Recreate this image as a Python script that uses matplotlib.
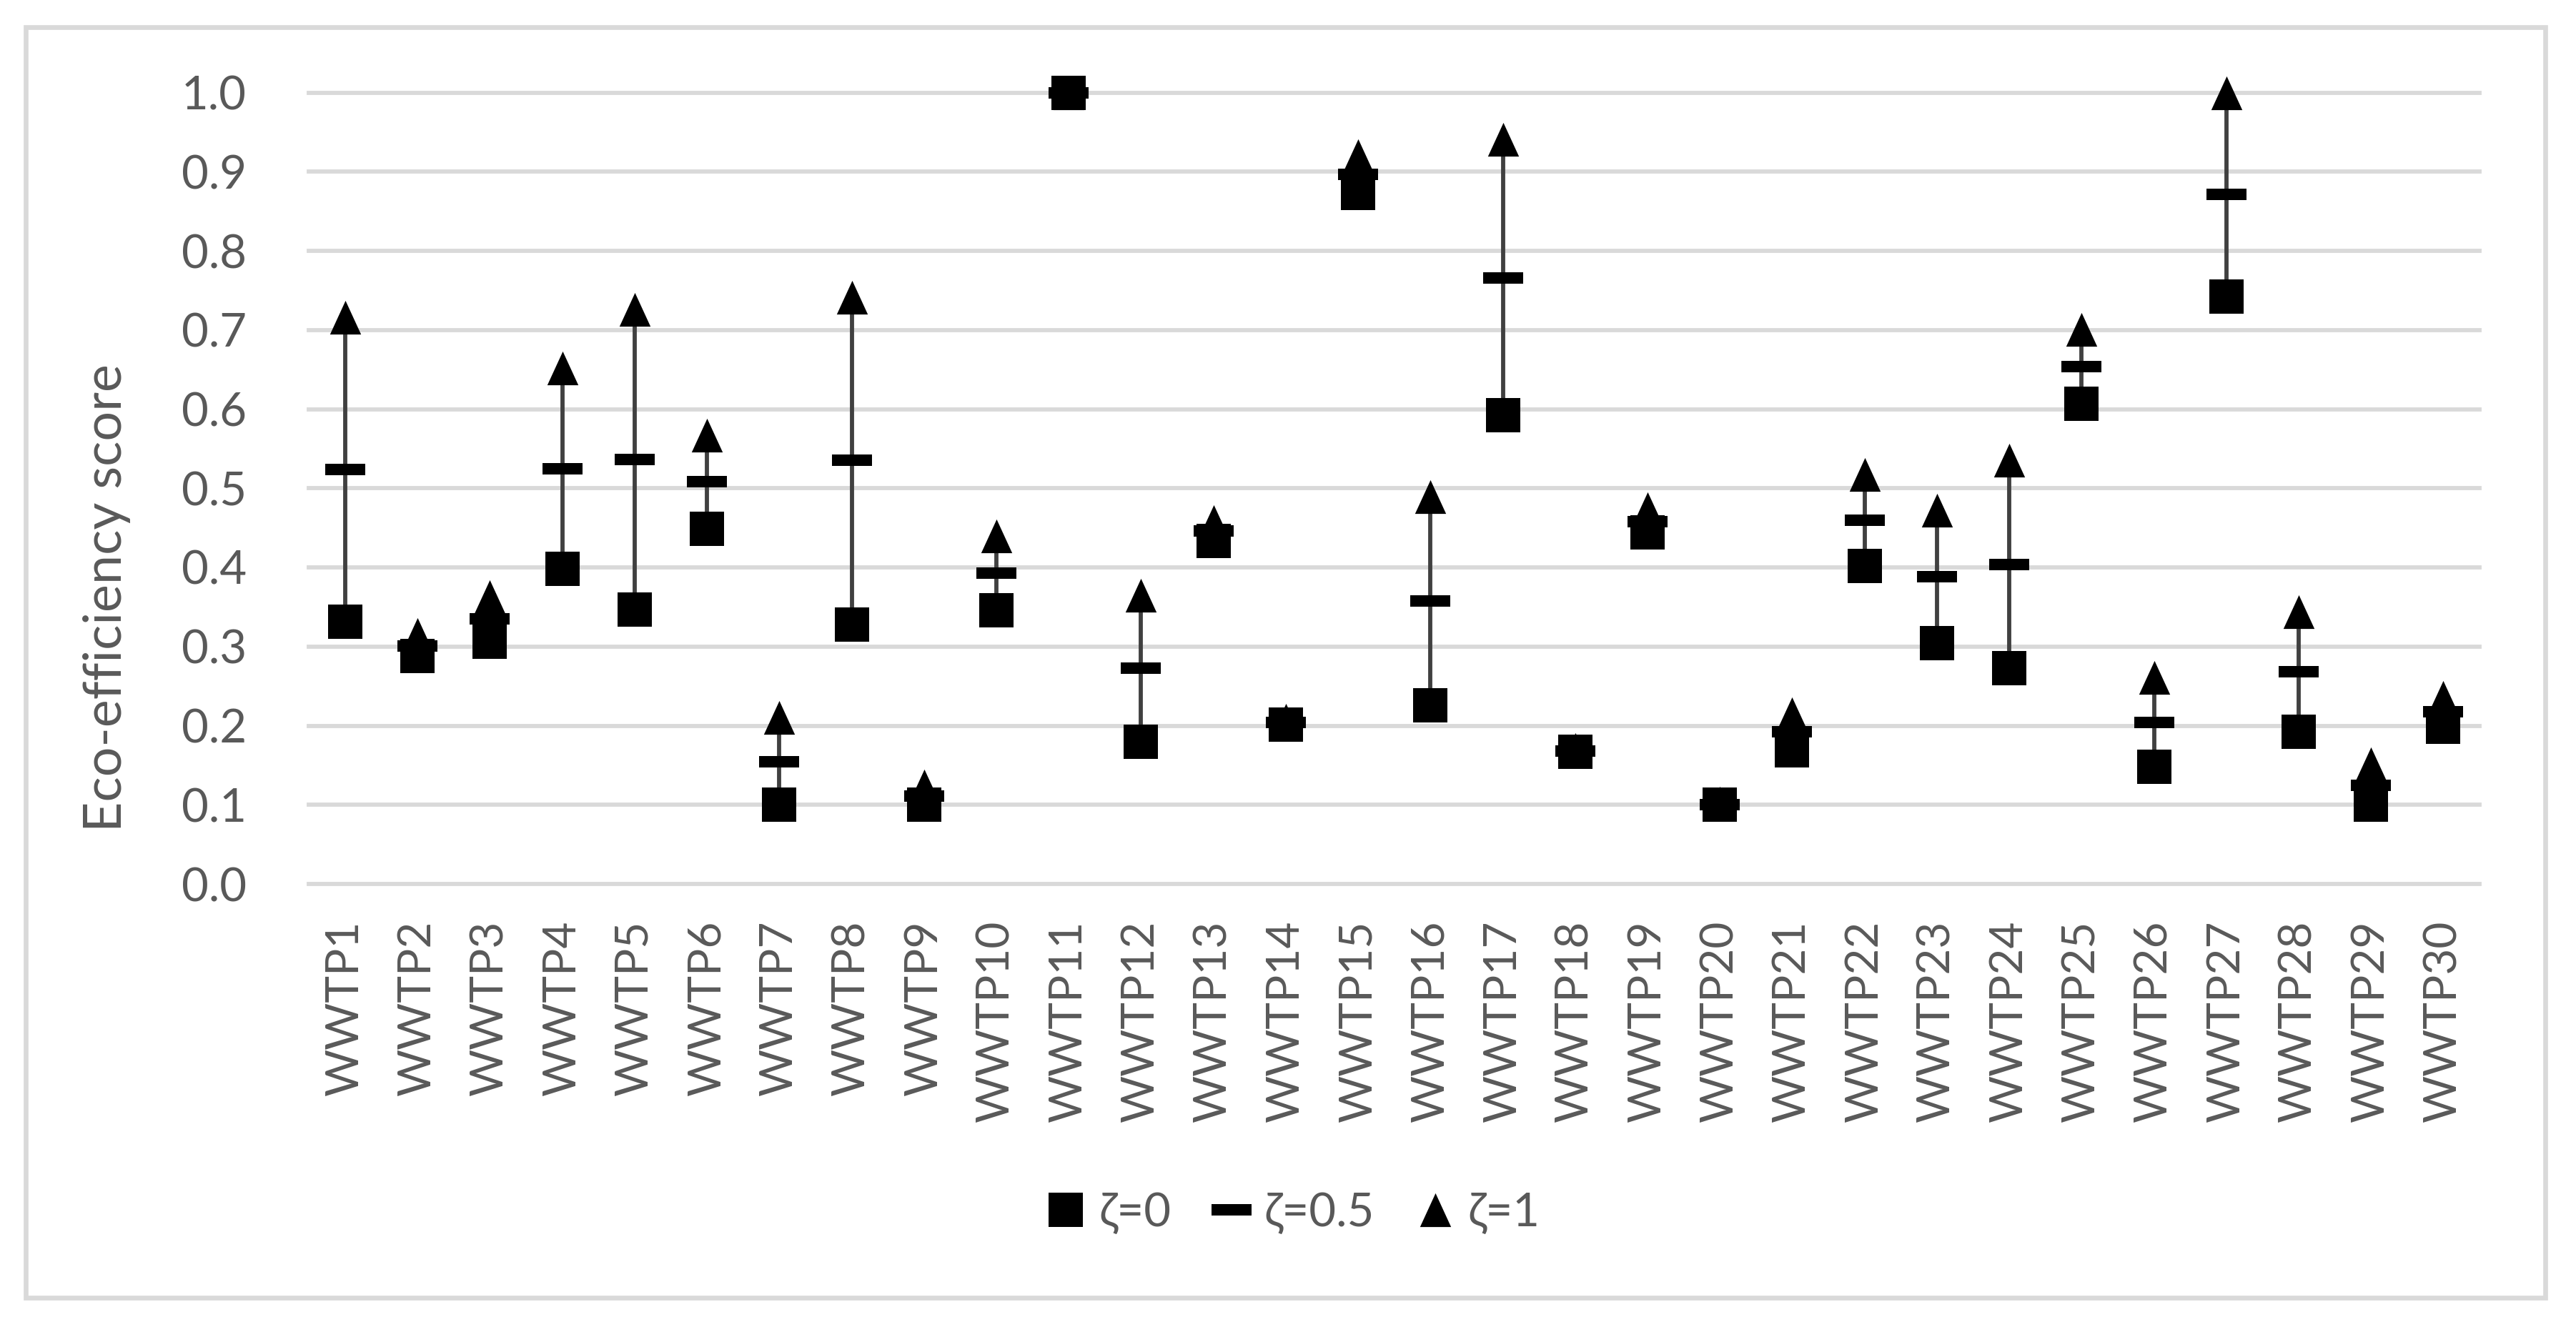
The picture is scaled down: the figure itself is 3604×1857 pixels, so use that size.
import matplotlib
matplotlib.use('Agg')
import matplotlib.pyplot as plt
from matplotlib.lines import Line2D
from matplotlib.patches import Rectangle
from matplotlib.path import Path

plants = ['WWTP1', 'WWTP2', 'WWTP3', 'WWTP4', 'WWTP5', 'WWTP6', 'WWTP7', 'WWTP8',
          'WWTP9', 'WWTP10', 'WWTP11', 'WWTP12', 'WWTP13', 'WWTP14', 'WWTP15',
          'WWTP16', 'WWTP17', 'WWTP18', 'WWTP19', 'WWTP20', 'WWTP21', 'WWTP22',
          'WWTP23', 'WWTP24', 'WWTP25', 'WWTP26', 'WWTP27', 'WWTP28', 'WWTP29', 'WWTP30']

# zeta = 0
score_z0 = [0.331, 0.288, 0.306, 0.398, 0.347, 0.449, 0.100, 0.328, 0.100, 0.346,
            1.000, 0.180, 0.433, 0.201, 0.873, 0.226, 0.592, 0.167, 0.444, 0.100,
            0.169, 0.402, 0.304, 0.273, 0.607, 0.148, 0.742, 0.192, 0.100, 0.199]
# zeta = 0.5
score_z05 = [0.524, 0.301, 0.335, 0.525, 0.536, 0.508, 0.154, 0.535, 0.111, 0.393,
             1.000, 0.273, 0.446, 0.204, 0.897, 0.358, 0.766, 0.168, 0.458, 0.100,
             0.192, 0.460, 0.388, 0.404, 0.654, 0.204, 0.871, 0.268, 0.125, 0.218]
# zeta = 1
score_z1 = [0.716, 0.315, 0.363, 0.652, 0.726, 0.567, 0.210, 0.741, 0.124, 0.440,
            1.000, 0.365, 0.458, 0.207, 0.920, 0.489, 0.941, 0.170, 0.474, 0.102,
            0.215, 0.517, 0.472, 0.535, 0.701, 0.261, 1.000, 0.344, 0.152, 0.236]

series_labels = ['ζ=0', 'ζ=0.5', 'ζ=1']
yticks = [0.0, 0.1, 0.2, 0.3, 0.4, 0.5, 0.6, 0.7, 0.8, 0.9, 1.0]

W, H = 3605, 1857
txt = '#595959'
grid = '#d9d9d9'
plt.rcParams['font.family'] = ['Lato', 'DejaVu Sans']

# custom markers: slightly narrow triangle and a flat dash
tri = Path([(0, 0.5), (-0.46, -0.5), (0.46, -0.5), (0, 0.5)],
           [Path.MOVETO, Path.LINETO, Path.LINETO, Path.CLOSEPOLY])
dash = Path([(-0.5, -0.15), (0.5, -0.15), (0.5, 0.15), (-0.5, 0.15), (-0.5, -0.15)],
            [Path.MOVETO, Path.LINETO, Path.LINETO, Path.LINETO, Path.CLOSEPOLY])

fig = plt.figure(figsize=(W / 100, H / 100), dpi=100)
ax = fig.add_axes([432.4 / W, 1 - 1237 / H, (3469 - 432.4) / W, (1237 - 129.5) / H])

x = list(range(len(plants)))
lows = [min(a, b) for a, b in zip(score_z0, score_z1)]
highs = [max(a, b) for a, b in zip(score_z0, score_z1)]
ax.vlines(x, lows, highs, color='#404040', lw=4.2, zorder=2, clip_on=False)
ax.plot(x, score_z1, ls='none', marker=tri, ms=34, color='black', mew=0, zorder=3, clip_on=False)
ax.plot(x, score_z05, ls='none', marker=dash, ms=40, color='black', mew=0, zorder=4, clip_on=False)
ax.plot(x, score_z0, ls='none', marker='s', ms=34.5, color='black', mew=0, zorder=5, clip_on=False)

ax.set_xlim(-0.5, len(plants) - 0.5)
ax.set_ylim(0, 1.0)
ax.set_yticks(yticks)
ax.set_yticklabels(['%.1f' % v for v in yticks])
ax.set_xticks(x)
ax.set_xticklabels(plants, rotation=90)
ax.tick_params(axis='y', length=0, pad=63, labelsize=47, labelcolor=txt)
ax.tick_params(axis='x', length=0, pad=37, labelsize=46, labelcolor=txt)
for s in ax.spines.values():
    s.set_visible(False)
ax.yaxis.grid(True, color=grid, lw=4.2, zorder=0)
ax.set_axisbelow(True)
for gl in ax.get_ygridlines():
    gl.set_clip_on(False)

fig.text(150 / W, 1 - 837 / H, 'Eco-efficiency score', rotation=90,
         ha='center', va='center', fontsize=53, color=txt)

handles = [
    Line2D([], [], ls='none', marker='s', ms=34.5, color='black', mew=0),
    Line2D([], [], ls='none', marker=dash, ms=40, color='black', mew=0),
    Line2D([], [], ls='none', marker=tri, ms=34, color='black', mew=0),
]
fig.legend(handles, series_labels, loc='center', bbox_to_anchor=(1810 / W, 1 - 1697 / H),
           ncol=3, frameon=False, fontsize=47, labelcolor=txt,
           handlelength=0.8, handletextpad=0.3, columnspacing=0.9)

fig.patches.append(Rectangle((36 / W, 1 - 1816 / H), (3561 - 36) / W, (1816 - 38) / H,
                             transform=fig.transFigure, fill=False,
                             edgecolor=grid, lw=4.8))

fig.savefig('out.png', dpi=100, facecolor='white')
